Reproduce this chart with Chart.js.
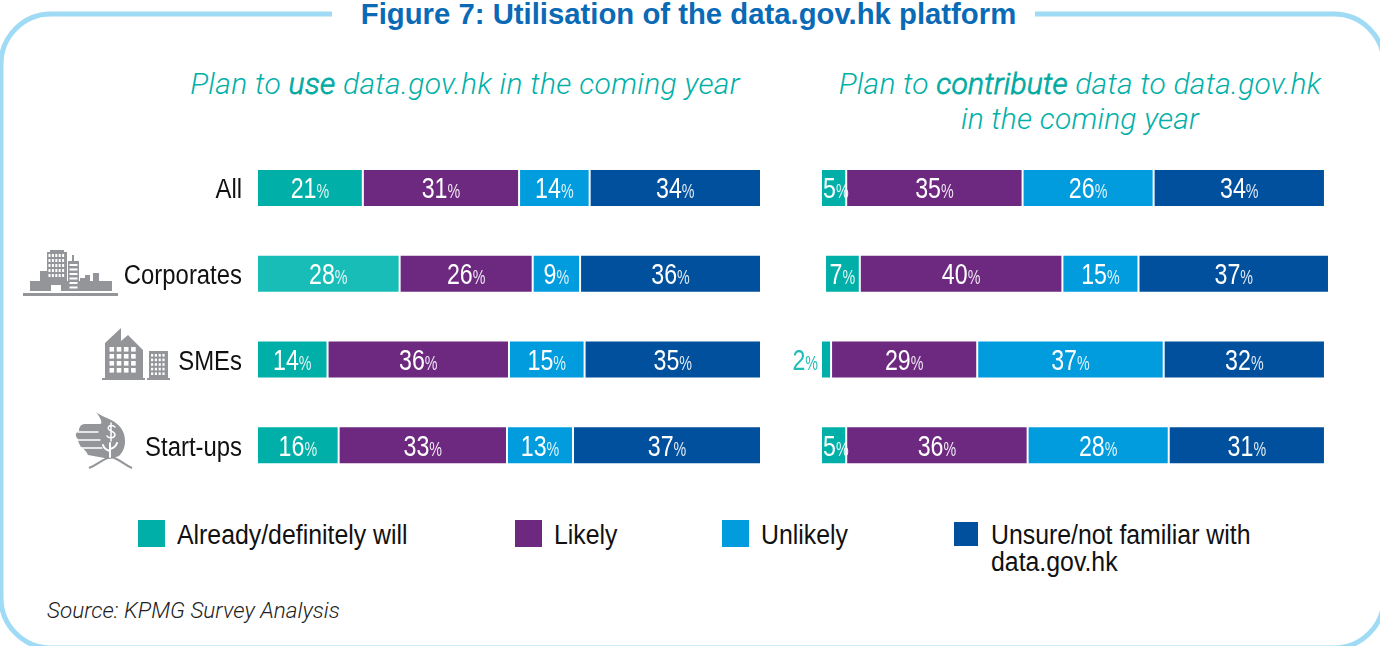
<!DOCTYPE html>
<html><head><meta charset="utf-8">
<script src="https://cdn.jsdelivr.net/npm/chart.js@4"></script>
<style>
html,body{margin:0;padding:0;background:#fff;width:1380px;height:646px;overflow:hidden}
#page{position:relative;width:1380px;height:646px;overflow:hidden}
.abs{position:absolute;white-space:nowrap}
canvas{position:absolute;display:block}
#title{left:332px;width:693px;padding-left:10px;top:-4px;height:36px;text-align:center;background:#fff;font:bold 29.3px/36px "Liberation Sans",sans-serif;color:#0a6ab5}
.head{font:italic 300 30px/35px Roboto,"Liberation Sans",sans-serif;color:#00b0a8;text-align:center}
.head b{font-weight:300;-webkit-text-stroke:.8px #00a89f}
.leg{font:27px/27px "Liberation Sans",sans-serif;color:#111;white-space:pre;transform:scaleX(.92);transform-origin:0 0}
.sw{position:absolute}
#src{left:47px;top:598px;font:italic 300 22.5px/24px Roboto,"Liberation Sans",sans-serif;color:#222}
</style></head><body>
<div id="page">
<svg class="abs" style="left:0;top:0" width="1380" height="646">
  <rect x="1" y="14" width="1383" height="634" rx="50" ry="50" fill="none" stroke="#9fdbf4" stroke-width="5"/>
  <g fill="#939598">
    <!-- corporates -->
    <rect x="23" y="293" width="95" height="3"/><rect x="30" y="281" width="82" height="10"/>
    <rect x="40" y="271" width="7" height="12"/><rect x="47" y="252" width="20" height="39"/><rect x="50" y="250" width="14" height="3"/>
    <rect x="68" y="261" width="11" height="30"/><rect x="72" y="255" width="2" height="7"/>
    <rect x="85" y="275" width="5" height="8"/><rect x="93" y="273" width="6" height="10"/><rect x="80" y="278" width="5" height="5"/>
    <!-- SMEs -->
    <rect x="102" y="378" width="43" height="2"/><rect x="147" y="378" width="23" height="2"/>
    <path d="M105 378V343L121 328V341L128 335L143 350V378Z"/><rect x="149" y="351" width="19" height="27"/>
    <!-- start-ups -->
    <path d="M96 412C104 419 119 419 124 434C127 445 123 452 119 456L110 459L88 455C86 451 84 449 81 447C79 444 78 441 78 439C75 436 75 433 79 431C79 428 80 425 84 424H100C103 424 101 418 96 412Z"/>
  </g>
  <path d="M89 468C97 465 102 459 111 457C120 459 124 465 132 468" fill="none" stroke="#939598" stroke-width="2"/>
  <g stroke="#fff" fill="none" stroke-linecap="round">
    <path d="M78 432H98M77 440H100M81 448H102" stroke-width="1.4"/>
    <path d="M115 427C112 424 107 426 108.500 429C110 432 115 431 115 435C114 439 108 438 107 436M111 423V441" stroke-width="1.500"/>
    <path d="M110 457V443M110 451C106 450 104 448 103 445M110 449C114 448 116 446 117 443" stroke-width="2"/>
  </g>
  <g fill="#fff" id="win1"></g>
</svg>
<div id="title" class="abs">Figure 7: Utilisation of the data.gov.hk platform</div>
<div class="abs head" style="left:165px;width:600px;top:66px;letter-spacing:.32px">Plan to <b>use</b> data.gov.hk in the coming year</div>
<div class="abs head" style="left:780px;width:600px;top:66px;letter-spacing:.2px">Plan to <b>contribute</b> data to data.gov.hk<br>in the coming year</div>
<canvas id="c1" width="780" height="343" style="left:0;top:145px"></canvas>
<canvas id="c2" width="600" height="343" style="left:780px;top:145px"></canvas>
<div class="sw" style="left:138px;top:520px;width:27px;height:27px;background:#00b0a8"></div>
<div class="abs leg" style="left:177px;top:522px" id="l0"></div>
<div class="sw" style="left:515px;top:520px;width:27px;height:27px;background:#6d2880"></div>
<div class="abs leg" style="left:554px;top:522px" id="l1"></div>
<div class="sw" style="left:722px;top:520px;width:27px;height:27px;background:#009cde"></div>
<div class="abs leg" style="left:761px;top:522px" id="l2"></div>
<div class="sw" style="left:954px;top:522px;width:24px;height:24px;background:#00509e"></div>
<div class="abs leg" style="left:991px;top:522px" id="l3"></div>
<div id="src" class="abs">Source: KPMG Survey Analysis</div>
</div>
<script>
const categories = ['All','Corporates','SMEs','Start-ups'];
const seriesNames = ['Already/definitely will','Likely','Unlikely','Unsure/not familiar with\ndata.gov.hk'];
const seriesColors = ['#00b0a8','#6d2880','#009cde','#00509e'];

// Plan to use: bar lengths
const useAlready  = [21, 28.3, 14, 16.2];
const useLikely   = [31, 26.4, 36, 33.4];
const useUnlikely = [14, 9.4, 15, 13.1];
const useUnsure   = [34, 35.9, 35, 37.3];
// Plan to use: printed labels
const useAlreadyLabels  = [21, 28, 14, 16];
const useLikelyLabels   = [31, 26, 36, 33];
const useUnlikelyLabels = [14, 9, 15, 13];
const useUnsureLabels   = [34, 36, 35, 37];

// Plan to contribute: bar lengths
const contributeLead     = [0, 0.8, 0, 0];
const contributeAlready  = [5, 6.9, 2, 5];
const contributeLikely   = [35, 40.2, 29, 36];
const contributeUnlikely = [26, 15.1, 37, 28];
const contributeUnsure   = [34, 37.8, 32, 31];
// Plan to contribute: printed labels
const contributeAlreadyLabels  = [5, 7, 2, 5];
const contributeLikelyLabels   = [35, 40, 29, 36];
const contributeUnlikelyLabels = [26, 15, 37, 28];
const contributeUnsureLabels   = [34, 37, 32, 31];

seriesNames.forEach((n,i)=>{document.getElementById('l'+i).textContent=n;});

(function(){
  const g=document.getElementById('win1'),ns='http://www.w3.org/2000/svg';
  const r=(x,y,w,h)=>{const e=document.createElementNS(ns,'rect');e.setAttribute('x',x);e.setAttribute('y',y);e.setAttribute('width',w);e.setAttribute('height',h);g.appendChild(e);};
  for(let a=0;a<5;a++)for(let b=0;b<5;b++)r(48.5+a*3.4,254+b*5,2,3);
  r(51,285,10,6);
  for(let b=0;b<6;b++)r(69.5,264+b*4.5,8,2);
  for(let a=0;a<4;a++)for(let b=0;b<4;b++)r(109.5+a*7.2,347+b*7,4.6,4.6);
  for(let a=0;a<4;a++)for(let b=0;b<5;b++)r(151+a*3.8,354+b*4.6,2.2,2.6);
})();

const FAM='"Liberation Sans",sans-serif';
function sx(ctx,text,x,y,font,scale){
  ctx.save();ctx.translate(x,y);ctx.scale(scale,1);ctx.font=font;ctx.fillText(text,0,0);ctx.restore();
}
const pctLabels = {
  id:'pctLabels',
  afterLayout(chart){
    const s=chart.scales.y;
    if(!s.options.display||s._condensed) return;
    s._condensed=true;
    const orig=s.drawLabels;
    s.drawLabels=function(area){
      const c=chart.ctx,ax=s.right-s.options.ticks.padding;
      c.save();c.translate(ax,3);c.scale(.885,1);c.translate(-ax,0);
      orig.call(s,area);c.restore();
    };
  },
  afterDatasetsDraw(chart){
    const ctx=chart.ctx;
    chart.data.datasets.forEach((ds,di)=>{
      if(!ds.printed) return;
      chart.getDatasetMeta(di).data.forEach((bar,i)=>{
        const num=String(ds.printed[i]);
        const big='29px '+FAM, small='21px '+FAM;
        ctx.save();
        ctx.textBaseline='alphabetic';ctx.textAlign='left';
        ctx.font=big;const w1=ctx.measureText(num).width*.8;
        ctx.font=small;const w2=ctx.measureText('%').width*.68;
        const outside=ds.printed[i]<3;
        const tight=bar.x-bar.base<w1+w2+4;
        const cx=(bar.x+bar.base)/2;
        const x=outside?bar.base-3-w1-w2:(tight?bar.base+2:cx-(w1+w2)/2);
        const y=bar.y+10.5;
        ctx.fillStyle=outside?'#1fbdb5':'#fff';
        sx(ctx,num,x,y,big,.8);
        ctx.globalAlpha=outside?1:.88;
        sx(ctx,'%',x+w1,y,small,.68);
        ctx.restore();
      });
    });
  }
};

function mk(id,datasets,opts){
  return new Chart(document.getElementById(id),{
    type:'bar',
    data:{labels:categories,datasets},
    plugins:[pctLabels],
    options:{
      indexAxis:'y',responsive:false,animation:false,devicePixelRatio:1,
      layout:{padding:opts.padding},
      plugins:{legend:{display:false},tooltip:{enabled:false},title:{display:false}},
      scales:{
        x:{stacked:true,min:0,max:opts.max,display:false},
        y:{stacked:true,display:opts.showY,
           afterFit(s){if(opts.showY){s.width=257;s.paddingTop=0;s.paddingBottom=0;}},
           grid:{display:false,drawTicks:false},border:{display:false},
           ticks:{padding:15,color:'#111',font:{family:FAM,size:27}}}
      }
    }
  });
}
function ds(values,printed,color,label){
  return {label,data:values,printed,backgroundColor:color,borderColor:'#fff',borderWidth:1,borderSkipped:false,inflateAmount:0,barThickness:38};
}
mk('c1',[
  ds(useAlready,useAlreadyLabels,['#00b0a8','#19bdb7','#00b0a8','#00b0a8'],seriesNames[0]),
  ds(useLikely,useLikelyLabels,seriesColors[1],seriesNames[1]),
  ds(useUnlikely,useUnlikelyLabels,seriesColors[2],seriesNames[2]),
  ds(useUnsure,useUnsureLabels,seriesColors[3],seriesNames[3])
],{padding:{left:0,right:19,top:0,bottom:0},max:100,showY:true});
mk('c2',[
  {label:'lead',data:contributeLead,backgroundColor:'rgba(0,0,0,0)',borderWidth:0,barThickness:38},
  ds(contributeAlready,contributeAlreadyLabels,seriesColors[0],seriesNames[0]),
  ds(contributeLikely,contributeLikelyLabels,seriesColors[1],seriesNames[1]),
  ds(contributeUnlikely,contributeUnlikelyLabels,seriesColors[2],seriesNames[2]),
  ds(contributeUnsure,contributeUnsureLabels,seriesColors[3],seriesNames[3])
],{padding:{left:41,right:50,top:0,bottom:0},max:101,showY:false});
</script>
</body></html>
